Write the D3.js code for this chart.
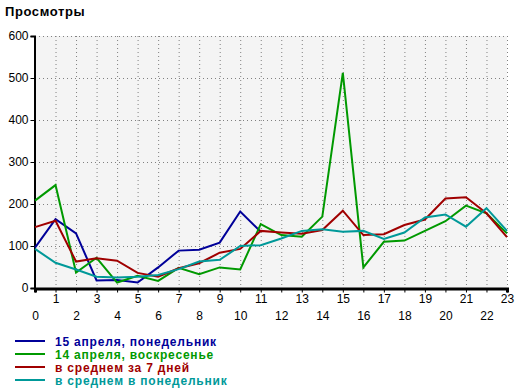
<!DOCTYPE html>
<html><head><meta charset="utf-8">
<script src="https://cdn.jsdelivr.net/npm/d3@7"></script>
<style>body{margin:0;background:#fff}svg{display:block}</style>
</head><body>
<svg id="c" width="520" height="392"></svg>
<script>
const hours = d3.range(0, 24);
const yTicks = [0, 100, 200, 300, 400, 500, 600];
const seriesNames = ["15 апреля, понедельник", "14 апреля, воскресенье", "в среднем за 7 дней", "в среднем в понедельник"];
const seriesColors = ["#000099", "#009900", "#a00000", "#009999"];
const mondayToday = [96, 164, 130, 18, 19, 13, 49, 89, 91, 108, 182, 134];
const sunday = [208, 245, 37, 72, 13, 29, 17, 48, 33, 49, 44, 152, 126, 122, 170, 512, 49, 110, 113, 136, 159, 196, 178, 130];
const avg7 = [145, 160, 63, 71, 65, 36, 27, 47, 59, 84, 93, 136, 132, 129, 138, 184, 126, 128, 150, 163, 213, 216, 178, 121];
const avgMonday = [93, 60, 44, 27, 25, 27, 31, 45, 63, 67, 100, 102, 118, 136, 140, 134, 136, 117, 132, 168, 175, 146, 190, 136];
const series = [mondayToday, sunday, avg7, avgMonday];

const svg = d3.select("#c");
const x = d3.scaleLinear().domain([0, 23]).range([35, 507]);
const y = d3.scaleLinear().domain([0, 600]).range([288, 36]);
const font = "'Liberation Sans', Arial, sans-serif";

svg.append("text").attr("x", 5).attr("y", 16).attr("font-family", font).attr("font-weight", "bold")
  .attr("font-size", 13).attr("letter-spacing", 0.6).attr("fill", "#000").text("Просмотры");

svg.append("rect").attr("x", x(0)).attr("y", y(600)).attr("width", x(23) - x(0)).attr("height", y(0) - y(600)).attr("fill", "#f4f4f4");

// grid
svg.append("g").selectAll("line").data(hours.slice(1)).join("line")
  .attr("x1", d => x(d) + 0.5).attr("x2", d => x(d) + 0.5).attr("y1", y(600)).attr("y2", y(0))
  .attr("stroke", "#808080").attr("stroke-dasharray", "1,3");
svg.append("g").selectAll("line").data(yTicks.slice(1)).join("line")
  .attr("x1", x(0)).attr("x2", x(23)).attr("y1", d => Math.round(y(d)) + 0.5).attr("y2", d => Math.round(y(d)) + 0.5)
  .attr("stroke", "#808080").attr("stroke-dasharray", "1,3");

// y axis
const ya = svg.append("g").attr("transform", `translate(${x(0) - 0.5},0)`)
  .call(d3.axisLeft(y).tickValues(yTicks).tickSize(4).tickPadding(2));
ya.select(".domain").attr("stroke-width", 2).attr("stroke", "#000");
ya.selectAll("text").attr("font-family", font).attr("font-size", 12).attr("fill", "#000");

// x axis
const xa = svg.append("g").attr("transform", `translate(0,${y(0) + 0.5})`)
  .call(d3.axisBottom(x).tickValues(hours).tickSize(4).tickPadding(4).tickFormat(d3.format("d")));
xa.select(".domain").attr("stroke-width", 3).attr("stroke", "#000");
xa.selectAll("text").attr("font-family", font).attr("font-size", 12).attr("fill", "#000")
  .attr("dy", d => d % 2 === 0 ? "1.95em" : "0.5em");

const line = d3.line().x((d, i) => x(hours[i])).y(d => y(d));
svg.append("g").selectAll("path").data(series).join("path")
  .attr("d", d => line(d)).attr("fill", "none")
  .attr("stroke", (d, i) => seriesColors[i]).attr("stroke-width", 2).attr("stroke-linejoin", "miter");

// legend
const lg = svg.append("g").selectAll("g").data(seriesNames).join("g")
  .attr("transform", (d, i) => `translate(0,${341 + i * 13})`);
lg.append("line").attr("x1", 15).attr("x2", 45).attr("y1", 0).attr("y2", 0)
  .attr("stroke", (d, i) => seriesColors[i]).attr("stroke-width", 2);
lg.append("text").attr("x", 55).attr("y", 5).attr("font-family", font).attr("font-weight", "bold")
  .attr("font-size", 12).attr("letter-spacing", 0.8).attr("fill", (d, i) => seriesColors[i]).text(d => d);
</script>
</body></html>
